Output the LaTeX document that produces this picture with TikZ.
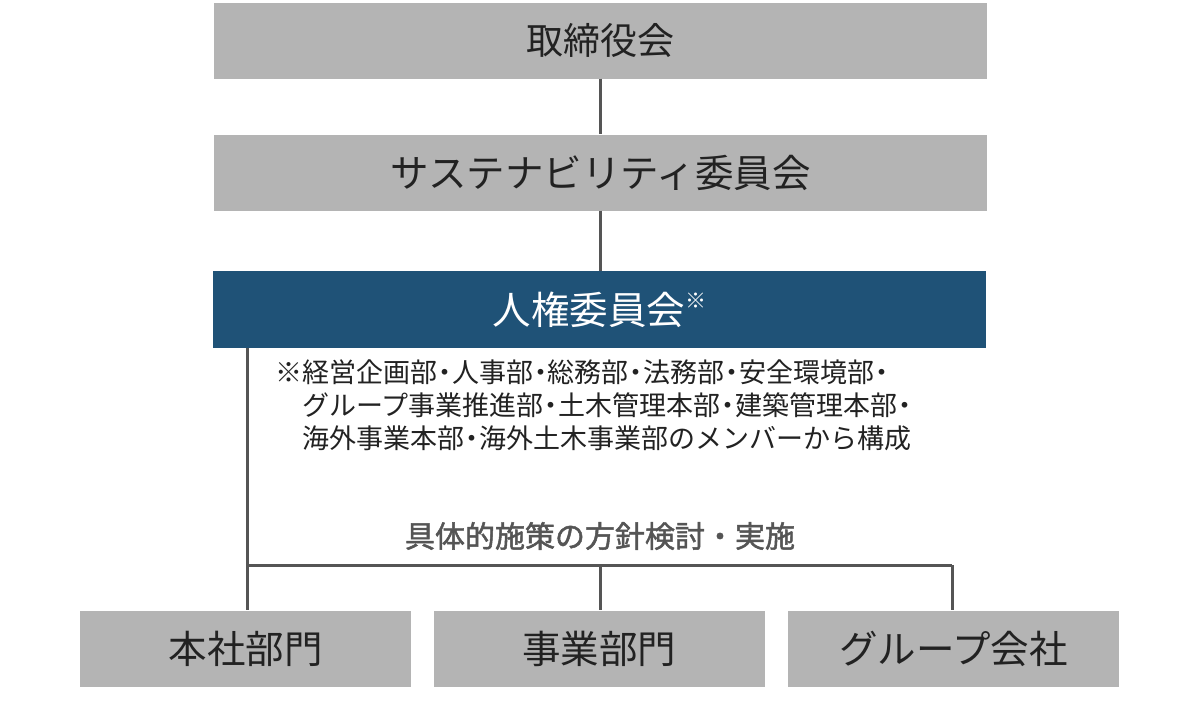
\documentclass[tikz,border=0pt]{standalone}
\usepackage{fontspec}
\setmainfont{Noto Sans CJK JP}
\newfontfamily\labfont[FakeBold=1.6]{Noto Sans CJK JP}
\definecolor{boxgray}{HTML}{B4B4B4}
\definecolor{hrblue}{HTML}{1F5277}
\definecolor{linegray}{HTML}{555555}
\definecolor{textdark}{HTML}{222222}
\newcommand\nkg{\makebox[0.55em][c]{・}}
\begin{document}
\begin{tikzpicture}[x=1pt,y=-1pt,
  graybox/.style={fill=boxgray,draw=none,text=textdark,font=\fontsize{38.5}{42}\selectfont,inner sep=0pt,minimum height=76pt},
  wide/.style={minimum width=773pt},
  narrowbox/.style={minimum width=331pt},
  conn/.style={draw=linegray,line width=3pt}]
\useasboundingbox (0,0) rectangle (1200,710);
\fill[white] (0,0) rectangle (1200,710);
\node[graybox,wide,font=\fontsize{37}{40}\selectfont] (top) at (600.5,40.5) {取締役会};
\node[graybox,wide] (sus) at (600.5,172.5) {サステナビリティ委員会};
\node[graybox,wide,fill=hrblue,text=white,minimum height=77pt,font=\fontsize{38.5}{42}\selectfont] (hr) at (599.5,309.5) {人権委員会\raisebox{0.42em}{\fontsize{21}{22}\selectfont ※}};
\node[graybox,narrowbox] (b1) at (245.5,648.5) {本社部門};
\node[graybox,narrowbox] (b2) at (599,648.5) {事業部門};
\node[graybox,narrowbox] (b3) at (953.5,648.5) {グループ会社};
\node[anchor=north west,align=left,inner sep=0pt,text=textdark,font=\fontsize{27}{33}\selectfont] (note) at (275,360)
  {※経営企画部\nkg 人事部\nkg 総務部\nkg 法務部\nkg 安全環境部\nkg\\
   \hspace{1em}グループ事業推進部\nkg 土木管理本部\nkg 建築管理本部\nkg\\
   \hspace{1em}海外事業本部\nkg 海外土木事業部のメンバーから構成};
\node[text=linegray,font=\fontsize{30}{32}\labfont] (lab) at (600,536) {具体的施策の方針検討・実施};
\coordinate (j1) at (247,565);
\coordinate (j2) at (600,565);
\coordinate (j3) at (952,565);
\draw[conn] (top.south -| j2) -- (sus.north -| j2);
\draw[conn] (sus.south -| j2) -- (hr.north -| j2);
\draw[conn] (hr.south -| j1) -- (b1.north -| j1);
\draw[conn] (j1) -- (j3);
\draw[conn] (j2) -- (b2.north -| j2);
\draw[conn] (j3) -- (b3.north -| j3);
\end{tikzpicture}
\end{document}
